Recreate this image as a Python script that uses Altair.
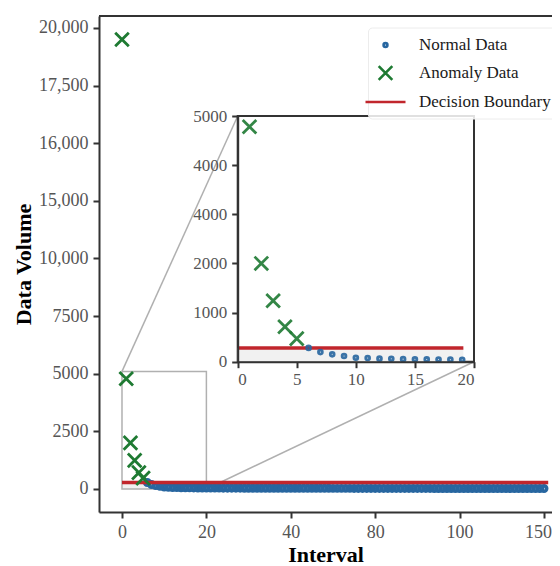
import altair as alt
import pandas as pd

# ------------------------------------------------------------------ data
categories = ["Normal Data", "Anomaly Data", "Decision Boundary"]

anomaly_x = [0, 1, 2, 3, 4, 5]
anomaly_y = [19500, 4780, 2000, 1240, 710, 470]

normal_x = list(range(6, 101))
normal_y = [
    280, 195, 150, 115, 80, 75, 62, 58, 52, 50, 46, 44, 42, 40,
    38, 37, 36, 36, 35, 34, 34, 33, 33, 32,
    32, 31, 31, 30, 30, 30, 29, 29, 29, 28,
    28, 28, 27, 27, 27, 27, 26, 26, 26, 26,
    25, 25, 25, 25, 25, 24, 24, 24, 24, 24,
    24, 23, 23, 23, 23, 23, 23, 22, 22, 22,
    22, 22, 22, 22, 21, 21, 21, 21, 21, 21,
    21, 21, 20, 20, 20, 20, 20, 20, 20, 20,
    20, 20, 19, 19, 19, 19, 19, 19, 19, 19, 19,
]

threshold = 280
boundary_x_main = [0, 101]
boundary_x_inset = [0, 19.1]

zoom_box_x = [0, 20]
zoom_box_y = [0, 5100]

inset_x_domain = [0, 20]
inset_y_domain = [0, 5000]

main_x_ticks = [0, 20, 40, 60, 80, 100]
main_x_labels = ["0", "20", "40", "80", "100", "150"]
main_y_ticks = [0, 2500, 5000, 7500, 10000, 12500, 15000, 17500, 20000]
main_y_labels = ["0", "2500", "5000", "7500", "10,000", "15,000", "16,000", "17,500", "20,000"]
inset_x_ticks = [0, 5, 10, 15, 20]
inset_x_labels = ["0", "5", "10", "15", "20"]
inset_y_ticks = [0, 1000, 2000, 3000, 4000, 5000]
inset_y_labels = ["0", "1000", "2000", "4000", "4000", "5000"]

# ------------------------------------------------------------------ style / layout
SERIF = "Liberation Serif"
BLUE = "#2766a0"
GREEN = "#1e7a32"
RED = "#c1262c"
AXIS = "#333333"
LABEL = "#555555"
BOX = "#b0b0b0"
SHADE = "#f1f1f1"

PAD_L = 91
W, H = 453, 496
INSET_L, INSET_R, INSET_T, INSET_B = 138.7, 375.0, 100.0, 345.7

DOT = "M0,-0.24A0.24,0.24,0,1,1,0,0.24A0.24,0.24,0,1,1,0,-0.24Z"
CROSS = "M-0.85,-0.85L0.85,0.85M-0.85,0.85L0.85,-0.85"
LINE = "M-2.5,0L2.5,0"


def label_expr(values, labels):
    expr = "''"
    for v, l in reversed(list(zip(values, labels))):
        expr = f"datum.value == {v} ? '{l}' : {expr}"
    return expr


pts = pd.DataFrame({
    "x": normal_x + anomaly_x,
    "y": normal_y + anomaly_y,
    "type": ["Normal Data"] * len(normal_x) + ["Anomaly Data"] * len(anomaly_x),
})
boundary_main = pd.DataFrame({"x0": [boundary_x_main[0]], "x1": [boundary_x_main[1]],
                              "y0": [0], "y1": [threshold]})
boundary_inset = pd.DataFrame({"x0": [boundary_x_inset[0]], "x1": [boundary_x_inset[1]],
                               "y0": [0], "y1": [threshold]})
box_df = pd.DataFrame({"x0": [zoom_box_x[0]], "x1": [zoom_box_x[1]],
                       "y0": [zoom_box_y[0]], "y1": [zoom_box_y[1]]})
frame_df = pd.DataFrame({"x0": [inset_x_domain[0]], "x1": [inset_x_domain[1]],
                         "y0": [inset_y_domain[0]], "y1": [inset_y_domain[1]]})

color_scale = alt.Scale(domain=categories, range=[BLUE, GREEN, RED])
shape_scale = alt.Scale(domain=categories, range=[DOT, CROSS, LINE])

legend = alt.Legend(
    title=None, orient="none", legendX=269, legendY=11.5,
    labelFont=SERIF, labelFontSize=17, labelColor="#1a1a1a",
    symbolSize=256, symbolStrokeWidth=2.6, symbolOpacity=1,
    rowPadding=7, labelOffset=24, padding=8,
    fillColor="rgba(255,255,255,0.85)", strokeColor="#ececec", cornerRadius=4,
)

common = dict(labelFont=SERIF, labelColor=LABEL, tickColor=AXIS, domainColor=AXIS,
              tickWidth=2, domainWidth=2, tickSize=6, grid=False, zindex=1,
              titleFont=SERIF, titleFontWeight="bold", titleColor="black", titleFontSize=22)

ax_mx = alt.Axis(orient="bottom", values=main_x_ticks, labelExpr=label_expr(main_x_ticks, main_x_labels),
                 labelOffset={"condition": {"test": f"datum.value == {main_x_ticks[-1]}", "value": -6},
                              "value": 0},
                 title="Interval", labelFontSize=18, labelPadding=5, titlePadding=3, **common)
ax_my = alt.Axis(orient="left", values=main_y_ticks, labelExpr=label_expr(main_y_ticks, main_y_labels),
                 title="Data Volume", labelFontSize=18, labelPadding=5, titlePadding=3, **common)
ax_ix = alt.Axis(orient="bottom", offset=INSET_B - H, values=inset_x_ticks,
                 labelExpr=label_expr(inset_x_ticks, inset_x_labels),
                 title=None, labelFontSize=17, labelPadding=4, **common)
ax_iy = alt.Axis(orient="left", offset=-INSET_L, values=inset_y_ticks,
                 labelExpr=label_expr(inset_y_ticks, inset_y_labels),
                 title=None, labelFontSize=17, labelPadding=5, **common)

xs_m = alt.Scale(domain=[-5.45, 101.9], nice=False, zero=False)
ys_m = alt.Scale(domain=[-1000, 20520], nice=False, zero=False)
xs_i = alt.Scale(domain=inset_x_domain, range=[INSET_L, INSET_R], nice=False, zero=False)
ys_i = alt.Scale(domain=inset_y_domain, range=[INSET_B, INSET_T], nice=False, zero=False)

# ------------------------------------------------------------------ main panel
def mx(f):
    return alt.X(f, type="quantitative", scale=xs_m, axis=ax_mx)


def my(f):
    return alt.Y(f, type="quantitative", scale=ys_m, axis=ax_my)


enc_type = dict(
    color=alt.Color("type:N", scale=color_scale, legend=legend),
    shape=alt.Shape("type:N", scale=shape_scale, legend=legend),
)

shade_m = alt.Chart(boundary_main).mark_rect(fill=SHADE).encode(
    x=mx("x0"), x2="x1", y=my("y0"), y2="y1")
box_m = alt.Chart(box_df).mark_rect(fill=None, stroke=BOX, strokeWidth=1.5).encode(
    x=mx("x0"), x2="x1", y=my("y0"), y2="y1")
conn1 = alt.Chart(box_df).mark_rule(color=BOX, strokeWidth=1.5).encode(
    x=mx("x0"), y=my("y1"), x2=alt.value(INSET_L), y2=alt.value(INSET_T))
conn2 = alt.Chart(box_df).mark_rule(color=BOX, strokeWidth=1.5).encode(
    x=mx("x1"), y=my("y0"), x2=alt.value(INSET_R), y2=alt.value(INSET_B))
rule_m = alt.Chart(boundary_main).mark_rule(color=RED, strokeWidth=3.5).encode(
    x=mx("x0"), x2="x1", y=my("y1"))
normal_m = alt.Chart(pts).transform_filter(alt.datum.type == "Normal Data").mark_point(
    filled=False, size=500, strokeWidth=3.6, opacity=1).encode(x=mx("x"), y=my("y"), **enc_type)
anom_m = alt.Chart(pts).transform_filter(alt.datum.type == "Anomaly Data").mark_point(
    filled=False, size=256, strokeWidth=2.8, opacity=1).encode(x=mx("x"), y=my("y"), **enc_type)
top_border = alt.Chart(box_df).mark_rule(color=AXIS, strokeWidth=2).encode(
    x=alt.value(0), x2=alt.value(W), y=alt.value(0))

main = alt.layer(shade_m, box_m, conn1, conn2, normal_m, rule_m, anom_m, top_border)

# ------------------------------------------------------------------ inset panel
def ix(f):
    return alt.X(f, type="quantitative", scale=xs_i, axis=ax_ix)


def iy(f):
    return alt.Y(f, type="quantitative", scale=ys_i, axis=ax_iy)


frame_i = alt.Chart(frame_df).mark_rect(fill="white", stroke=AXIS, strokeWidth=2).encode(
    x=ix("x0"), x2="x1", y=iy("y0"), y2="y1")
shade_i = alt.Chart(boundary_inset).mark_rect(fill=SHADE).encode(
    x=ix("x0"), x2="x1", y=iy("y0"), y2="y1")
rule_i = alt.Chart(boundary_inset).mark_rule(color=RED, strokeWidth=3.5).encode(
    x=ix("x0"), x2="x1", y=iy("y1"))
pts_i = alt.Chart(pts).transform_filter(
    (alt.datum.x >= 1) & (alt.datum.x <= 19)
).mark_point(filled=False, size=256, strokeWidth=2.8, opacity=0.9).encode(
    x=ix("x"), y=iy("y"), **enc_type)

inset = alt.layer(frame_i, shade_i, rule_i, pts_i)

chart = alt.layer(main, inset).resolve_scale(
    x="independent", y="independent"
).resolve_axis(
    x="independent", y="independent"
).properties(
    width=W, height=H,
    autosize=alt.AutoSizeParams(type="none"),
    padding={"left": PAD_L, "top": 8, "right": 0, "bottom": 54},
).configure_view(stroke=None).configure(font=SERIF)

chart.save("out.html", embed_options={"renderer": "svg", "actions": False})
